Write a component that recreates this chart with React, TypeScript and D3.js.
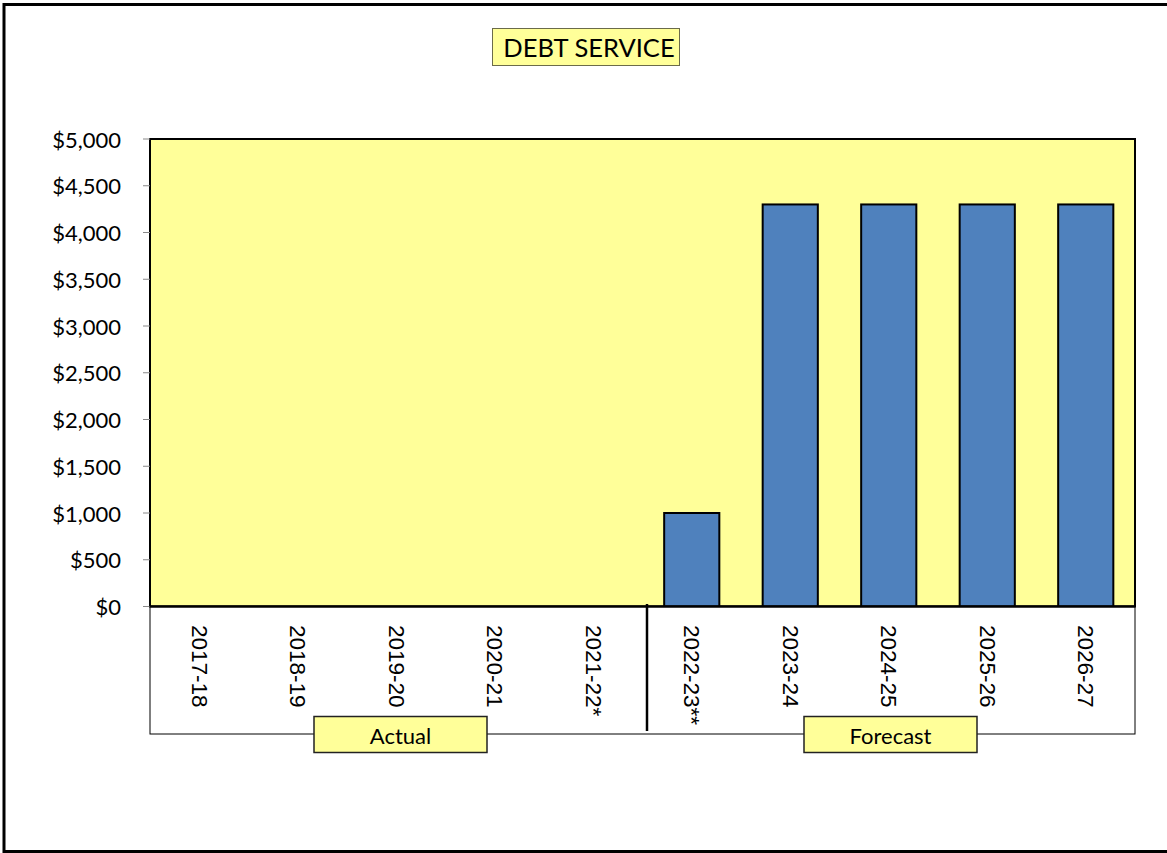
import React from "react";
import * as d3 from "d3";

const categories = ["2017-18", "2018-19", "2019-20", "2020-21", "2021-22*", "2022-23**", "2023-24", "2024-25", "2025-26", "2026-27"];
const values = [0, 0, 0, 0, 0, 1000, 4300, 4300, 4300, 4300];
const yTicks = [0, 500, 1000, 1500, 2000, 2500, 3000, 3500, 4000, 4500, 5000];
const groups = [
  { label: "Actual", from: 0, to: 4, boxX: 314 },
  { label: "Forecast", from: 5, to: 9, boxX: 804 },
];
const title = "DEBT SERVICE";

const W = 1167, H = 853;
const plot = { left: 150, right: 1135, top: 139, bottom: 606.5 };
const labelBottom = 734;
const sansC = "Lato, 'Open Sans', sans-serif";
const sansA = "'Liberation Sans', Arial, sans-serif";

export default function App() {
  const x = d3.scaleBand<string>().domain(categories).range([plot.left, plot.right]).paddingInner(0.44).paddingOuter(0.22);
  const xStep = d3.scaleBand<string>().domain(categories).range([plot.left, plot.right]).padding(0);
  const y = d3.scaleLinear().domain([0, 5000]).range([plot.bottom, plot.top]);
  const fmt = (v: number) => "$" + d3.format(",")(v);
  const dividerX = xStep(categories[5])! + 4.5;

  return (
    <svg width={W} height={H} style={{ position: "absolute", left: 0, top: 0, background: "#fff" }}>
      <rect x={4} y={4.5} width={W + 10} height={847} fill="#fff" stroke="#000" strokeWidth={3} />
      {/* title */}
      <rect x={492.5} y={28.5} width={187} height={37} fill="#FFFF99" stroke="#6b6b4a" strokeWidth={1} />
      <text x={589} y={47} textAnchor="middle" dominantBaseline="central" fontFamily={sansC} fontSize={25.5} fill="#000">{title}</text>
      {/* plot area */}
      <rect x={plot.left} y={plot.top} width={plot.right - plot.left} height={plot.bottom - plot.top} fill="#FFFF99" stroke="#000" strokeWidth={2} />
      {/* y axis ticks & labels */}
      {yTicks.map((t) => (
        <g key={t}>
          <line x1={143} x2={plot.left} y1={y(t)} y2={y(t)} stroke="#888" strokeWidth={1} />
          <text x={121} y={y(t)} textAnchor="end" dominantBaseline="central" fontFamily={sansC} fontSize={22} fill="#000">{fmt(t)}</text>
        </g>
      ))}
      {/* bars */}
      {categories.map((c, i) =>
        values[i] > 0 ? (
          <rect key={c} x={x(c)!} y={y(values[i])} width={x.bandwidth()} height={y(0) - y(values[i])} fill="#4F81BD" stroke="#000" strokeWidth={2} />
        ) : null
      )}
      {/* label box */}
      <rect x={plot.left} y={plot.bottom} width={plot.right - plot.left} height={labelBottom - plot.bottom} fill="#fff" stroke="#000" strokeWidth={1} />
      <line x1={plot.left} x2={plot.right} y1={plot.bottom} y2={plot.bottom} stroke="#000" strokeWidth={2.5} />
      <line x1={plot.right} x2={plot.right} y1={plot.top} y2={plot.bottom} stroke="#000" strokeWidth={2} />
      <line x1={dividerX} x2={dividerX} y1={604} y2={731} stroke="#000" strokeWidth={2.5} />
      {categories.map((c) => {
        const cx = xStep(c)! + xStep.bandwidth() / 2;
        return (
          <text key={c} transform={`translate(${cx},625) rotate(90)`} textAnchor="start" dominantBaseline="central" fontFamily={sansA} fontSize={22.5} fill="#000">{c}</text>
        );
      })}
      {/* group boxes */}
      {groups.map((g) => (
        <g key={g.label}>
          <rect x={g.boxX} y={716.5} width={173} height={36} fill="#FFFF99" stroke="#222" strokeWidth={1.5} />
          <text x={g.boxX + 86.5} y={735} textAnchor="middle" dominantBaseline="central" fontFamily={sansC} fontSize={22} fill="#000">{g.label}</text>
        </g>
      ))}
    </svg>
  );
}
